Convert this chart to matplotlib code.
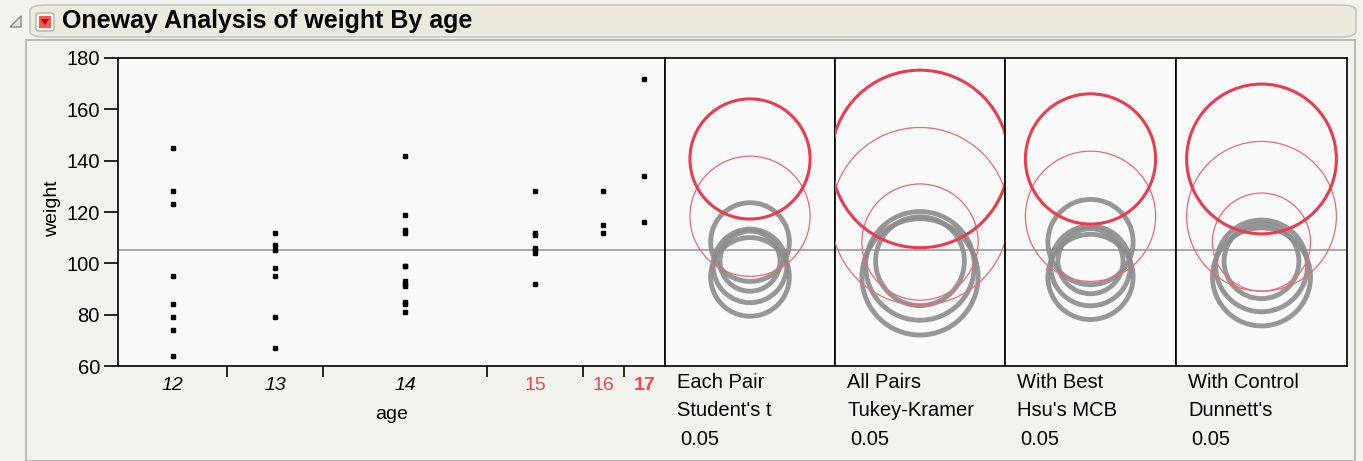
import numpy as np
import matplotlib
matplotlib.use("Agg")
import matplotlib.pyplot as plt
from matplotlib.patches import Circle, FancyBboxPatch, Rectangle, Polygon

# Big Class: weight by age
ages = ["12", "13", "14", "15", "16", "17"]
weight_12 = [95, 123, 74, 145, 64, 84, 128, 79]
weight_13 = [112, 107, 67, 98, 105, 95, 79]
weight_14 = [81, 91, 142, 84, 85, 93, 99, 119, 92, 112, 99, 113]
weight_15 = [92, 112, 128, 111, 105, 104, 106]
weight_16 = [112, 115, 128]
weight_17 = [116, 134, 172]
groups = [weight_12, weight_13, weight_14, weight_15, weight_16, weight_17]

test_line1 = ["Each Pair", "All Pairs", "With Best", "With Control"]
test_line2 = ["Student's t", "Tukey-Kramer", "Hsu's MCB", "Dunnett's"]
test_alpha = ["0.05", "0.05", "0.05", "0.05"]
test_quantile = [2.03, 3.00, 2.20, 2.53]
test_red_groups = [["16"], ["15", "16"], ["16"], ["15", "16"]]
selected_group = "17"

# x labels: style per age on the axis
label_color = ["black", "black", "black", "#F04656", "#F04656", "#F04656"]
label_style = ["italic", "italic", "italic", "normal", "normal", "normal"]
label_weight = ["normal", "normal", "normal", "normal", "normal", "bold"]

plt.rcParams["font.family"] = ["Liberation Sans", "DejaVu Sans"]

W, H = 1363, 461
BG = "#F3F3EE"
PLOT_BG = "#FAFAFA"
RED = "#EC3B4E"
RED_THIN = "#F06674"
GRAY = "#8C8C8C"


def fx(px):
    return px / W


def fy(py):
    return 1 - py / H


counts = np.array([len(g) for g in groups])
means = np.array([np.mean(g) for g in groups])
n_total = counts.sum()
grand_mean = np.mean(np.concatenate(groups))
sse = sum(((np.array(g) - np.mean(g)) ** 2).sum() for g in groups)
rmse = np.sqrt(sse / (n_total - len(groups)))

fig = plt.figure(figsize=(W / 100, H / 100), dpi=100, facecolor=BG)

# outer frame and header bar
fig.patches.append(Rectangle((fx(26), fy(461)), fx(1355) - fx(26), fy(40) - fy(461),
                             transform=fig.transFigure, facecolor=BG, edgecolor="#BDBAB2",
                             linewidth=1.5, zorder=-10))
fig.patches.append(FancyBboxPatch((fx(30), fy(37)), fx(1356) - fx(30), fy(5) - fy(37),
                                  boxstyle="round,pad=0,rounding_size=0.012",
                                  transform=fig.transFigure, facecolor="#ECE9DF",
                                  edgecolor="#C9C6BC", linewidth=1.2, zorder=1))
fig.patches.append(Polygon([(fx(10), fy(27)), (fx(21), fy(16)), (fx(21), fy(27))],
                           closed=True, transform=fig.transFigure, facecolor="#E4E4E4",
                           edgecolor="#8A8A8A", linewidth=1, zorder=2))
fig.patches.append(FancyBboxPatch((fx(36), fy(31)), fx(54) - fx(36), fy(13) - fy(31),
                                  boxstyle="round,pad=0,rounding_size=0.003",
                                  transform=fig.transFigure, facecolor="#F7F5F0",
                                  edgecolor="#B5B2A8", linewidth=1, zorder=2))
fig.patches.append(Rectangle((fx(39), fy(28)), fx(51) - fx(39), fy(16) - fy(28),
                             transform=fig.transFigure, facecolor="#EE5A5A",
                             edgecolor="none", zorder=3))
fig.patches.append(Polygon([(fx(41), fy(19)), (fx(49), fy(19)), (fx(45), fy(25))],
                           closed=True, transform=fig.transFigure, facecolor="#C40000",
                           edgecolor="none", zorder=4))
fig.text(fx(62), fy(21), "Oneway Analysis of weight By age", fontsize=18,
         fontweight="bold", va="center", ha="left", color="black")

# scatter of weight by age, x widths proportional to group size
ax = fig.add_axes([fx(118), fy(366), fx(665) - fx(118), fy(58) - fy(366)])
ax.set_facecolor(PLOT_BG)
ax.set_xlim(0, n_total)
ax.set_ylim(60, 180)
edges = np.concatenate([[0], np.cumsum(counts)])
centers = (edges[:-1] + edges[1:]) / 2
for x, g in zip(centers, groups):
    ax.plot([x] * len(g), g, "s", color="black", ms=2.4, zorder=3)
ax.axhline(grand_mean, color="#9A9A9A", lw=1.2, zorder=1)

ax.set_xticks(edges[1:-1])
ax.set_xticklabels([])
ax.set_xticks(centers, minor=True)
ax.set_xticklabels(ages, minor=True)
ax.tick_params(axis="x", which="major", direction="out", length=8, width=1.2)
ax.tick_params(axis="x", which="minor", length=0, pad=8, labelsize=14)
for lab, c, st, wt in zip(ax.get_xticklabels(minor=True), label_color, label_style, label_weight):
    lab.set_color(c)
    lab.set_fontstyle(st)
    lab.set_fontweight(wt)
ax.set_yticks(np.arange(60, 181, 20))
ax.tick_params(axis="y", direction="out", length=10, width=1.2, pad=3, labelsize=14.5)
for s in ax.spines.values():
    s.set_linewidth(1.2)
fig.text(fx((118 + 665) / 2), fy(414), "age", fontsize=14, ha="center", va="center")
fig.text(fx(53), fy(209), "weight", fontsize=14, rotation=90, ha="center", va="center")

# comparison circle panels
panel_edges = [665, 835, 1005, 1176, 1347]
units_per_px = 120 / (366 - 58)
for i in range(len(test_quantile)):
    left, right = panel_edges[i], panel_edges[i + 1]
    pax = fig.add_axes([fx(left), fy(366), fx(right) - fx(left), fy(58) - fy(366)])
    pax.set_facecolor(PLOT_BG)
    half = (right - left) / 2 * units_per_px
    pax.set_xlim(-half, half)
    pax.set_ylim(60, 180)
    pax.set_xticks([])
    pax.set_yticks([])
    for s in pax.spines.values():
        s.set_linewidth(1.2)
    pax.axhline(grand_mean, color="#9A9A9A", lw=1.2, zorder=1)
    radii = test_quantile[i] * rmse / np.sqrt(counts)
    # gray first, then red ones on top
    for age, m, r in zip(ages, means, radii):
        if age != selected_group and age not in test_red_groups[i]:
            pax.add_patch(Circle((0, m), r, fill=False, edgecolor=GRAY, lw=3.5, alpha=0.9, zorder=2))
    for age, m, r in zip(ages, means, radii):
        if age in test_red_groups[i]:
            pax.add_patch(Circle((0, m), r, fill=False, edgecolor=RED_THIN, lw=0.9, zorder=3))
        elif age == selected_group:
            pax.add_patch(Circle((0, m), r, fill=False, edgecolor=RED, lw=2.2, zorder=4))
    fig.text(fx(left + 12), fy(382), test_line1[i], fontsize=14.5, ha="left", va="center")
    fig.text(fx(left + 12), fy(410), test_line2[i], fontsize=14.5, ha="left", va="center")
    fig.text(fx(left + 15), fy(439), test_alpha[i], fontsize=14.5, ha="left", va="center")

fig.savefig("out.png", dpi=100, facecolor=BG)
